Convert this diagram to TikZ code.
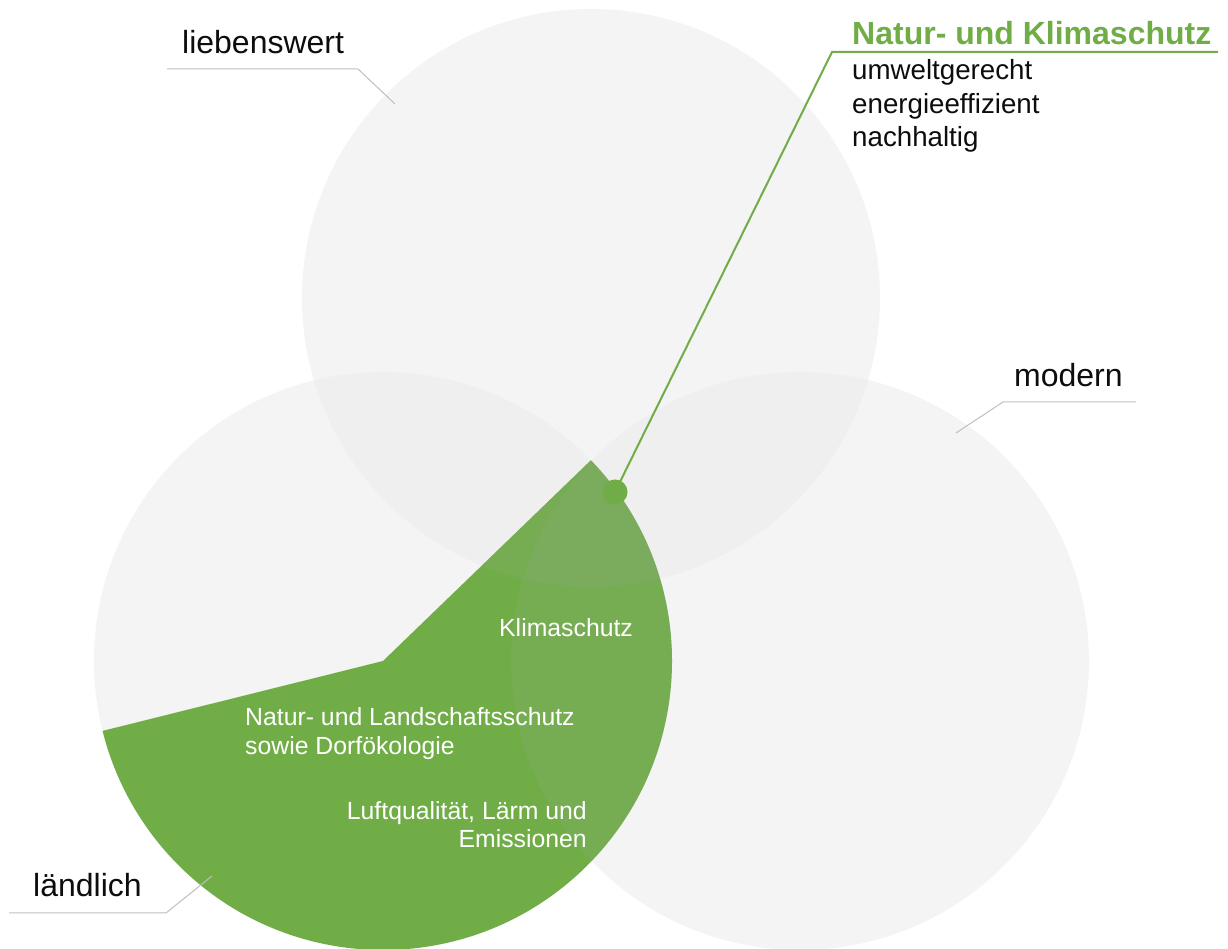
\documentclass[tikz,border=0pt]{standalone}
\usepackage{fontspec}
\setmainfont{Liberation Sans}
\definecolor{vgreen}{RGB}{112,173,71}
\definecolor{circgray}{RGB}{235,235,235}
\definecolor{tintgray}{RGB}{165,165,165}
\definecolor{leadgray}{RGB}{191,191,191}
\definecolor{txtblack}{RGB}{13,13,13}
\tikzset{
  venn/.style={circle, fill=circgray, fill opacity=0.5, draw=none, minimum size=578pt, inner sep=0pt},
  tint/.style={fill=tintgray, fill opacity=0.12},
  leader/.style={draw=leadgray, line width=1pt},
  gline/.style={draw=vgreen, line width=2pt},
  lbl/.style={anchor=base west, inner sep=0pt, font=\fontsize{32}{38}\selectfont, text=txtblack},
  ttl/.style={anchor=base west, inner sep=0pt, font=\fontsize{32}{38}\selectfont\bfseries, text=vgreen},
  sub/.style={anchor=base west, inner sep=0pt, font=\fontsize{27.7}{33}\selectfont, text=txtblack},
  inl/.style={anchor=base west, inner sep=0pt, font=\fontsize{24.8}{29}\selectfont, text=white},
  inr/.style={anchor=base east, inner sep=0pt, font=\fontsize{24.8}{29}\selectfont, text=white},
}
\begin{document}
\begin{tikzpicture}[x=1pt,y=1pt]
\fill[white] (0,0) rectangle (1228,949);
\useasboundingbox (0,0) rectangle (1228,949);
% circles
\node[venn] (cleft) at (383,288) {};
\node[venn] (ctop) at (591,651) {};
\node[venn] (cright) at (800,288) {};
% green sector
\fill[vgreen] (cleft.center) -- ++(44:289) arc[start angle=44, end angle=-166, radius=289] -- cycle;
% tint where top and right circles cover the sector
\begin{scope}
  \clip (cleft.center) -- ++(44:289) arc[start angle=44, end angle=-166, radius=289] -- cycle;
  \fill[tint] (ctop.center) circle[radius=289];
  \fill[tint] (cright.center) circle[radius=289];
\end{scope}
% leader lines
\coordinate (l1) at (167,880); \coordinate (l2) at (358,880); \coordinate (l3) at (395,845);
\draw[leader] (l1) -- (l2) -- (l3);
\coordinate (m1) at (1136,547); \coordinate (m2) at (1003,547); \coordinate (m3) at (956,516);
\draw[leader] (m1) -- (m2) -- (m3);
\coordinate (d1) at (9,36); \coordinate (d2) at (166,36); \coordinate (d3) at (212,73);
\draw[leader] (d1) -- (d2) -- (d3);
% green callout
\node[circle, fill=vgreen, minimum size=25pt, inner sep=0pt] (dot) at (615,457) {};
\coordinate (k1) at (1218,897); \coordinate (k2) at (832,897);
\draw[gline] (k1) -- (k2) -- (dot.center);
% labels
\node[lbl] (lieb) at (182,895) {liebenswert};
\node[lbl] (mod) at (1014,562) {modern};
\node[lbl] (land) at (33,52) {ländlich};
\node[ttl] (title) at (852,904) {Natur- und Klimaschutz};
\node[sub] (s1) at (852,869) {umweltgerecht};
\node[sub] (s2) at (852,835.5) {energieeffizient};
\node[sub] (s3) at (852,802) {nachhaltig};
% inner texts
\node[inl] (t1) at (499,312) {Klimaschutz};
\node[inl] (t2) at (245,223) {Natur- und Landschaftsschutz};
\node[inl] (t3) at (245,194) {sowie Dorfökologie};
\node[inr] (t4) at (587,129) {Luftqualität, Lärm und};
\node[inr] (t5) at (587,101) {Emissionen};
\end{tikzpicture}
\end{document}
